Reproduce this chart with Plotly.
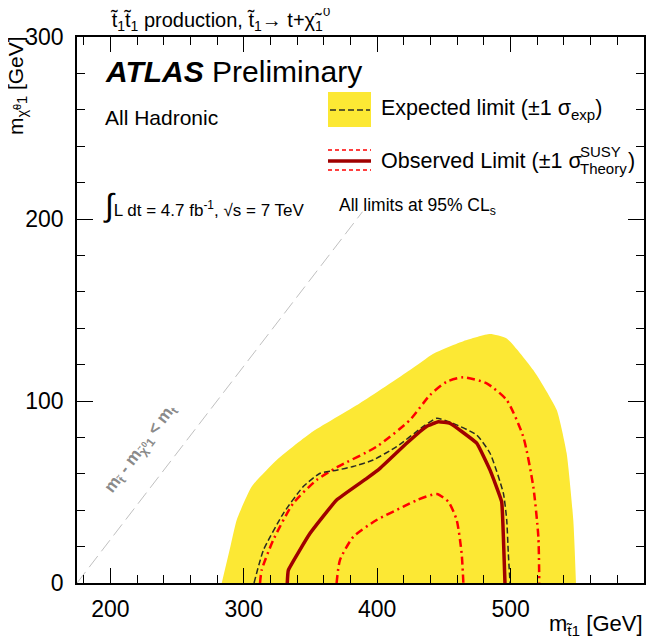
import plotly.graph_objects as go

# ---------------- data (GeV) ----------------
band_x = [283.5, 290.0, 294.7, 306.0, 324.7, 349.7, 387.0, 424.6, 442.1, 465.0, 484.6, 497.1, 517.0, 534.6, 542.0, 547.0, 549.0]
band_y = [0.0, 20.0, 34.6, 53.0, 67.6, 82.2, 98.7, 117.0, 126.0, 133.0, 136.8, 134.4, 117.0, 95.0, 71.4, 34.6, 0.0]

exp_x = [307.7, 314.7, 329.7, 344.6, 357.2, 369.6, 382.0, 397.0, 414.6, 434.6, 444.6, 457.0, 474.6, 484.6, 494.6, 497.1, 498.3, 499.6]
exp_y = [0.0, 18.0, 38.3, 53.0, 60.3, 62.0, 64.0, 67.6, 74.9, 86.0, 90.5, 87.7, 81.3, 71.3, 49.3, 34.6, 16.3, 0.0]

obs_x = [332.6, 333.4, 349.7, 369.6, 392.2, 402.1, 422.1, 437.0, 445.8, 454.6, 474.6, 484.6, 493.3, 494.6, 495.8]
obs_y = [0.0, 7.0, 27.3, 45.6, 57.5, 63.0, 76.8, 86.0, 88.6, 87.7, 76.8, 62.0, 44.7, 25.4, 0.0]

obs_up_x = [312.2, 313.4, 322.1, 337.1, 354.7, 369.6, 399.6, 424.6, 439.6, 452.1, 464.6, 482.1, 497.1, 509.5, 517.0, 520.8, 521.5]
obs_up_y = [0.0, 7.0, 23.6, 43.8, 56.6, 63.5, 74.9, 89.6, 103.3, 110.6, 113.0, 109.7, 100.5, 80.4, 53.0, 25.4, 0.0]

obs_dn_x = [369.6, 372.1, 382.1, 399.6, 419.6, 430.0, 444.6, 453.3, 459.6, 463.3, 464.6]
obs_dn_y = [0.0, 12.6, 25.4, 34.6, 41.9, 45.6, 48.9, 44.7, 34.6, 16.3, 0.0]

kin_x = [175.0, 389.0]
kin_y = [0.0, 204.0]

x_range = [175, 600]
y_range = [0, 300]

FONT = "Liberation Sans, Arial, Helvetica, sans-serif"
YELLOW = "#fce834"
DARKRED = "#a00000"
RED = "#ff0000"

fig = go.Figure()
fig.add_trace(go.Scatter(x=band_x, y=band_y, fill="toself", fillcolor=YELLOW,
                         mode="lines", line=dict(width=0, color=YELLOW, shape="spline", smoothing=0.5),
                         hoverinfo="skip", showlegend=False))
fig.add_trace(go.Scatter(x=kin_x, y=kin_y, mode="lines",
                         line=dict(color="#c0c0c0", width=1, dash="14px,6px"), showlegend=False))
fig.add_trace(go.Scatter(x=obs_dn_x, y=obs_dn_y, mode="lines",
                         line=dict(color=RED, width=2.5, dash="8px,4px,2px,4px", shape="spline", smoothing=0.6),
                         showlegend=False))
fig.add_trace(go.Scatter(x=obs_up_x, y=obs_up_y, mode="lines",
                         line=dict(color=RED, width=2.5, dash="8px,4px,2px,4px", shape="spline", smoothing=0.6),
                         showlegend=False))
fig.add_trace(go.Scatter(x=exp_x, y=exp_y, mode="lines",
                         line=dict(color="#2a2a22", width=1.5, dash="6px,3px", shape="spline", smoothing=0.5),
                         showlegend=False))
fig.add_trace(go.Scatter(x=obs_x, y=obs_y, mode="lines",
                         line=dict(color=DARKRED, width=3.5, shape="spline", smoothing=0.3),
                         showlegend=False))

# page offset (browser body margin) and plot-area geometry in page pixels
OFF = 8
W, H = 654, 643
PX0, PX1, PY0, PY1 = 77, 644, 37, 583
L = PX0 - OFF
R = W - (PX1 - OFF)
T = PY0 - OFF
B = H - (PY1 - OFF)
PW, PH = PX1 - PX0, PY1 - PY0

def px(xp):
    return (xp - PX0) / PW

def py(yp):
    return (PY1 - yp) / PH

ann = []
def add_text(text, xp, yp, size, xanchor="left", yanchor="middle", color="black", angle=0):
    ann.append(dict(text=text, x=px(xp), y=py(yp), xref="paper", yref="paper",
                    xanchor=xanchor, yanchor=yanchor, showarrow=False,
                    textangle=angle, font=dict(family=FONT, size=size, color=color)))

# title
add_text("t̃<sub>1</sub>t̃<sub>1</sub> production, t̃<sub>1</sub>→ t+χ̃<sub>1</sub>", 108, 21, 20)
add_text("0", 321, 12, 13)
# ATLAS
add_text("<b><i>ATLAS</i></b> Preliminary", 103, 71, 30)
add_text("All Hadronic", 103, 117, 21)
add_text("<span style='font-size:32px'>∫</span>L dt = 4.7 fb<sup>-1</sup>, √s = 7 TeV", 101, 205, 17)
add_text("All limits at 95% CL<sub>s</sub>", 337, 206, 17.5)
# legend texts
add_text("Expected limit (±1 σ<sub>exp</sub>)", 379, 110, 21.5)
add_text("Observed Limit (±1 σ", 379, 161, 21.5)
add_text("SUSY", 578, 151, 15)
add_text("Theory", 578, 168, 15)
add_text(")", 626, 161, 21.5)
# diagonal label
add_text("<b>m<sub>t̃</sub> - m<sub>χ̃<sup>0</sup>1</sub> < m<sub>t</sub></b>", 141, 449, 17,
         xanchor="center", color="#8a8a8a", angle=-53)
# axis titles
add_text("m<sub>χ̃<sup>0</sup>1</sub> [GeV]", 17, 86, 21, xanchor="center", angle=-90)
add_text("m<sub>t̃1</sub> [GeV]", 645, 625, 22, xanchor="right")

shapes = [
    dict(type="rect", xref="paper", yref="paper", x0=px(328), x1=px(371), y0=py(127), y1=py(92),
         fillcolor=YELLOW, line=dict(width=0)),
    dict(type="line", xref="paper", yref="paper", x0=px(330), x1=px(370), y0=py(110), y1=py(110),
         line=dict(color="#2a2a22", width=1.5, dash="6px,3px")),
    dict(type="line", xref="paper", yref="paper", x0=px(328), x1=px(371), y0=py(150), y1=py(150),
         line=dict(color=RED, width=1.5, dash="4px,3px")),
    dict(type="line", xref="paper", yref="paper", x0=px(328), x1=px(371), y0=py(170), y1=py(170),
         line=dict(color=RED, width=1.5, dash="4px,3px")),
    dict(type="line", xref="paper", yref="paper", x0=px(328), x1=px(371), y0=py(161), y1=py(161),
         line=dict(color=DARKRED, width=3.5)),
]

axis_common = dict(showgrid=False, zeroline=False, showline=True, linecolor="black", linewidth=1.6,
                   mirror="ticks", ticks="inside", tickwidth=1.2, tickcolor="black",
                   tickfont=dict(family=FONT, size=23, color="black"), tick0=0, dtick=100)

fig.update_layout(
    width=W, height=H, margin=dict(l=L, r=R, t=T, b=B, autoexpand=False),
    paper_bgcolor="white", plot_bgcolor="white",
    xaxis=dict(range=x_range, ticklen=15, ticklabelstandoff=5,
               minor=dict(dtick=20, tick0=0, ticks="inside", ticklen=8, tickwidth=1.2, tickcolor="black"),
               **axis_common),
    yaxis=dict(range=y_range, ticklen=16, ticklabelstandoff=7,
               minor=dict(dtick=20, tick0=0, ticks="inside", ticklen=8, tickwidth=1.2, tickcolor="black"),
               **axis_common),
    annotations=ann, shapes=shapes, showlegend=False,
)

fig.write_html("out.html")
